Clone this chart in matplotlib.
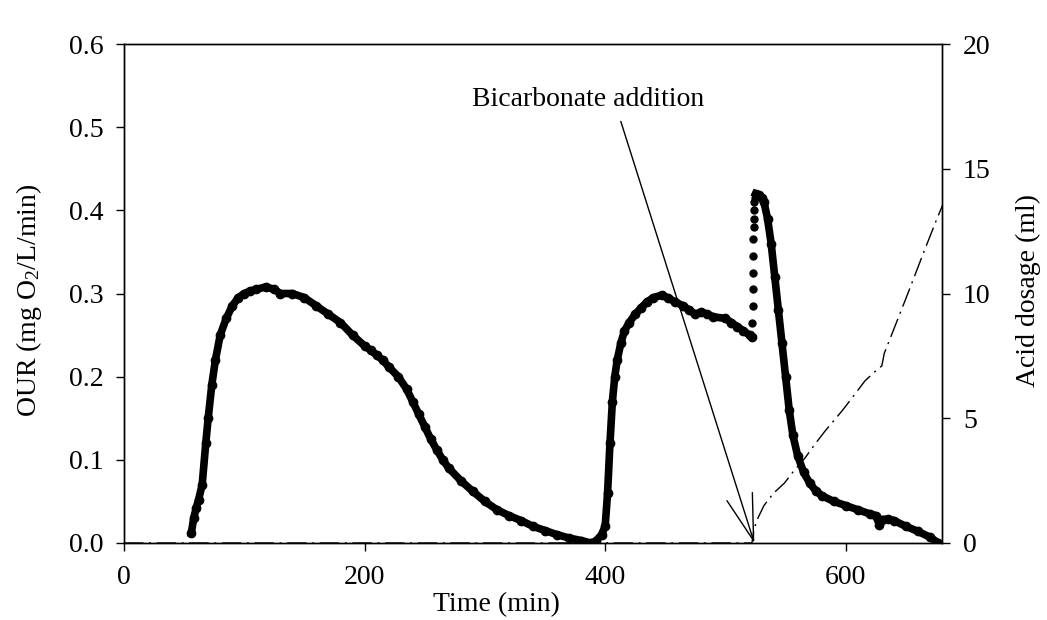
import numpy as np
import matplotlib
matplotlib.use("Agg")
import matplotlib.pyplot as plt

plt.rcParams['font.family'] = ['Liberation Serif', 'DejaVu Serif']
plt.rcParams['mathtext.fontset'] = 'custom'
plt.rcParams['mathtext.rm'] = 'Liberation Serif'
plt.rcParams['mathtext.default'] = 'regular'
plt.rcParams['font.size'] = 20

# OUR, first hump + start of second (continuous trace)
t_our_a = [56, 58, 60, 62, 65, 68, 70, 73, 76, 80, 85, 90, 95, 100, 105, 110, 118,
           125, 130, 140, 150, 160, 170, 180, 190, 200, 205, 210, 215, 220, 228,
           235, 240, 245, 250, 255, 260, 265, 270, 280, 290, 300, 310, 320, 330,
           340, 350, 360, 370, 380, 388, 392, 397, 400, 402, 404, 406, 408, 410,
           413, 416, 420, 425, 430, 435, 440, 447, 452, 458, 465, 470, 475, 480,
           485, 490, 500, 505, 510, 515, 520, 522]
our_a = [0.012, 0.030, 0.042, 0.052, 0.070, 0.120, 0.150, 0.190, 0.220, 0.250,
         0.270, 0.285, 0.295, 0.300, 0.303, 0.305, 0.308, 0.305, 0.300, 0.300,
         0.295, 0.285, 0.275, 0.265, 0.250, 0.237, 0.232, 0.226, 0.220, 0.212,
         0.200, 0.185, 0.170, 0.155, 0.140, 0.125, 0.112, 0.100, 0.090, 0.075,
         0.062, 0.050, 0.040, 0.033, 0.027, 0.020, 0.015, 0.010, 0.006, 0.003,
         0.000, 0.002, 0.010, 0.020, 0.060, 0.120, 0.170, 0.200, 0.220, 0.240,
         0.255, 0.265, 0.275, 0.283, 0.290, 0.295, 0.298, 0.295, 0.290, 0.285,
         0.280, 0.275, 0.278, 0.275, 0.272, 0.270, 0.265, 0.260, 0.255, 0.250,
         0.248]

# OUR, sudden jump after bicarbonate addition (sparse samples)
t_our_jump = [522.3, 522.5, 522.7, 522.9, 523.0, 523.2, 523.4, 523.6, 523.8, 524.0, 524.3]
our_jump = [0.265, 0.285, 0.305, 0.325, 0.345, 0.365, 0.380, 0.390, 0.400, 0.410, 0.415]

# OUR, second peak and decay
t_our_b = [525, 528, 530, 532, 535, 538, 541, 544, 547, 550, 553, 556, 560, 565,
           570, 575, 580, 590, 600, 610, 620, 625, 628, 630, 635, 640, 650, 660,
           670, 677]
our_b = [0.420, 0.418, 0.415, 0.410, 0.390, 0.360, 0.320, 0.280, 0.240, 0.200,
         0.160, 0.130, 0.105, 0.085, 0.072, 0.063, 0.057, 0.050, 0.045, 0.040,
         0.035, 0.033, 0.022, 0.028, 0.029, 0.027, 0.020, 0.014, 0.007, 0.000]

# acid dosage (ml)
t_acid = [0, 522, 524, 527, 532, 540, 549, 557, 566, 575, 583, 590, 597, 605,
          616, 625, 630, 632, 641, 650, 658, 666, 675, 681]
acid = [0, 0, 0.6, 1.0, 1.5, 2.0, 2.4, 2.9, 3.4, 4.0, 4.5, 4.9, 5.3, 5.8, 6.5,
        6.9, 7.1, 7.6, 8.7, 9.8, 10.8, 11.8, 12.9, 13.6]

fig = plt.figure(figsize=(10.47, 6.2), dpi=100)
ax = fig.add_axes([0.1184, 0.1242, 0.7813, 0.8048])
ax2 = ax.twinx()

ax.plot(t_our_a, our_a, '-', color='k', lw=5.5, marker='o', ms=6, zorder=3)
ax.plot(t_our_jump, our_jump, 'o', color='k', ms=5, zorder=3)
ax.plot(t_our_b, our_b, '-', color='k', lw=5.5, marker='o', ms=6, zorder=3)

ax2.plot(t_acid, acid, color='k', lw=1.0, dashes=[14, 4, 1.5, 4])

ax.set_xlim(0, 680)
ax.set_ylim(0, 0.6)
ax2.set_ylim(0, 20)
ax.set_xticks([0, 200, 400, 600])
ax.set_yticks(np.arange(0, 0.61, 0.1))
ax.yaxis.set_major_formatter(matplotlib.ticker.FormatStrFormatter('%.1f'))
ax2.set_yticks([0, 5, 10, 15, 20])

for a in (ax, ax2):
    a.tick_params(direction='out', length=6, width=1, pad=9)
    for s in a.spines.values():
        s.set_linewidth(1)
ax.tick_params(axis='x', pad=10)

ax.set_xlabel('Time (min)')
ax.xaxis.set_label_coords(0.455, -0.098)
ax.set_ylabel('OUR (mg O$_2$/L/min)')
ax.yaxis.set_label_coords(-0.098, 0.487)
ax2.set_ylabel('Acid dosage (ml)')
ax2.yaxis.set_label_coords(1.09, 0.507)

# bicarbonate addition marker
ax.text(386, 0.533, 'Bicarbonate addition', ha='center', va='center')
ax.annotate('', xy=(524, 0), xytext=(413, 0.507),
            arrowprops=dict(arrowstyle='->,head_length=1.66,head_width=0.48',
                            mutation_scale=20, lw=1, color='k',
                            shrinkA=0, shrinkB=0))

fig.savefig('out.png', dpi=100)
